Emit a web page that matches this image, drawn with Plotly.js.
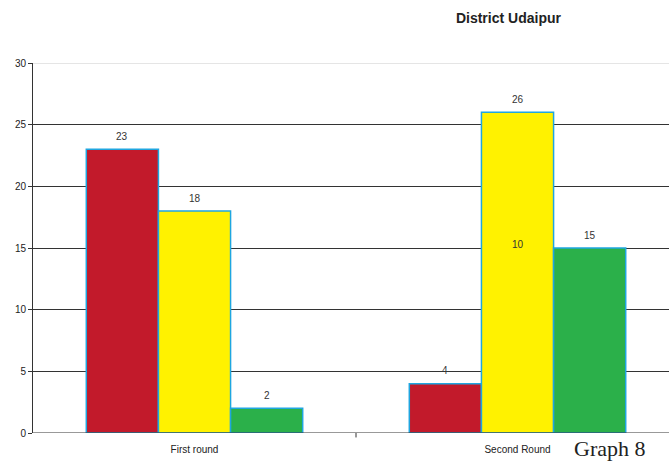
<!DOCTYPE html>
<html><head><meta charset="utf-8">
<script src="https://cdn.plot.ly/plotly-3.0.1.min.js"></script>
<style>html,body{margin:0;padding:0;background:#fff;}#c{width:669px;height:462px;}</style>
</head><body><div id="c"></div>
<script>
const categories = ["First round", "Second Round"];
const series1 = [23, 4];
const series2 = [18, 26];
const series3 = [2, 15];
const yTicks = [0, 5, 10, 15, 20, 25, 30];
const colors = ["#c21a2b", "#fff200", "#2bb04a"];
const xIdx = [0, 1];
const allSeries = [series1, series2, series3];
const bargap = 0.33;
const barW = (1 - bargap) / 3;

function bar(vals, color) {
  return {
    type: "bar", x: xIdx, y: vals, marker: {color: color, line: {color: "#1fa6e0", width: 1.5}},
    hoverinfo: "skip"
  };
}
const data = allSeries.map((s, k) => bar(s, colors[k]));

const labelFont = {family: "Liberation Sans, Arial", size: 10, color: "#333"};
const annotations = [];
allSeries.forEach((s, k) => {
  s.forEach((v, i) => {
    annotations.push({xref: "x", yref: "y", x: xIdx[i] + (k - 1) * barW, y: v, yshift: 13,
      text: String(v), showarrow: false, font: labelFont});
  });
});
annotations.push({xref: "x", yref: "y", x: 1, y: 15.3, text: "10", showarrow: false, font: labelFont});
annotations.push({xref: "paper", yref: "paper", x: 0.847, y: -0.08, xanchor: "left", yanchor: "bottom",
  text: "Graph 8", showarrow: false, font: {family: "Liberation Serif, Times New Roman", size: 22, color: "#222"}});

const layout = {
  width: 669, height: 462,
  margin: {l: 33, r: 0, t: 63, b: 29},
  paper_bgcolor: "#fff", plot_bgcolor: "#fff",
  showlegend: false, barmode: "group", bargap: bargap, bargroupgap: 0,
  title: {text: "<b>District Udaipur</b>", x: 0.76, xanchor: "center", y: 0.96, yanchor: "middle",
          font: {family: "Liberation Sans, Arial", size: 14, color: "#222"}},
  xaxis: {
    type: "linear", range: [-0.5, 1.469], tickmode: "array", tickvals: xIdx, ticktext: categories,
    showgrid: false, zeroline: false, showline: false, ticks: "",
    tickfont: {family: "Liberation Sans, Arial", size: 10, color: "#222"}, ticklabelstandoff: 9
  },
  yaxis: {
    range: [0, 30], tickmode: "array", tickvals: yTicks, ticktext: yTicks.map(String),
    showgrid: true, gridcolor: "#333", gridwidth: 1, zeroline: false,
    showline: true, linecolor: "#333", linewidth: 1, ticks: "outside", ticklen: 4, tickcolor: "#333",
    tickfont: {family: "Liberation Sans, Arial", size: 10, color: "#222"}
  },
  shapes: [
    {type: "line", xref: "paper", yref: "y", x0: 0, x1: 1, y0: 30, y1: 30, line: {color: "#ddd", width: 1.5}},
    {type: "line", xref: "paper", yref: "y", x0: 0, x1: 1, y0: 0, y1: 0, line: {color: "#333", width: 1}},
    {type: "line", xref: "x", yref: "paper", x0: 0.5, x1: 0.5, y0: 0, y1: -0.012, line: {color: "#333", width: 1}}
  ],
  annotations: annotations
};
Plotly.newPlot("c", data, layout, {staticPlot: true, displayModeBar: false});
</script></body></html>
